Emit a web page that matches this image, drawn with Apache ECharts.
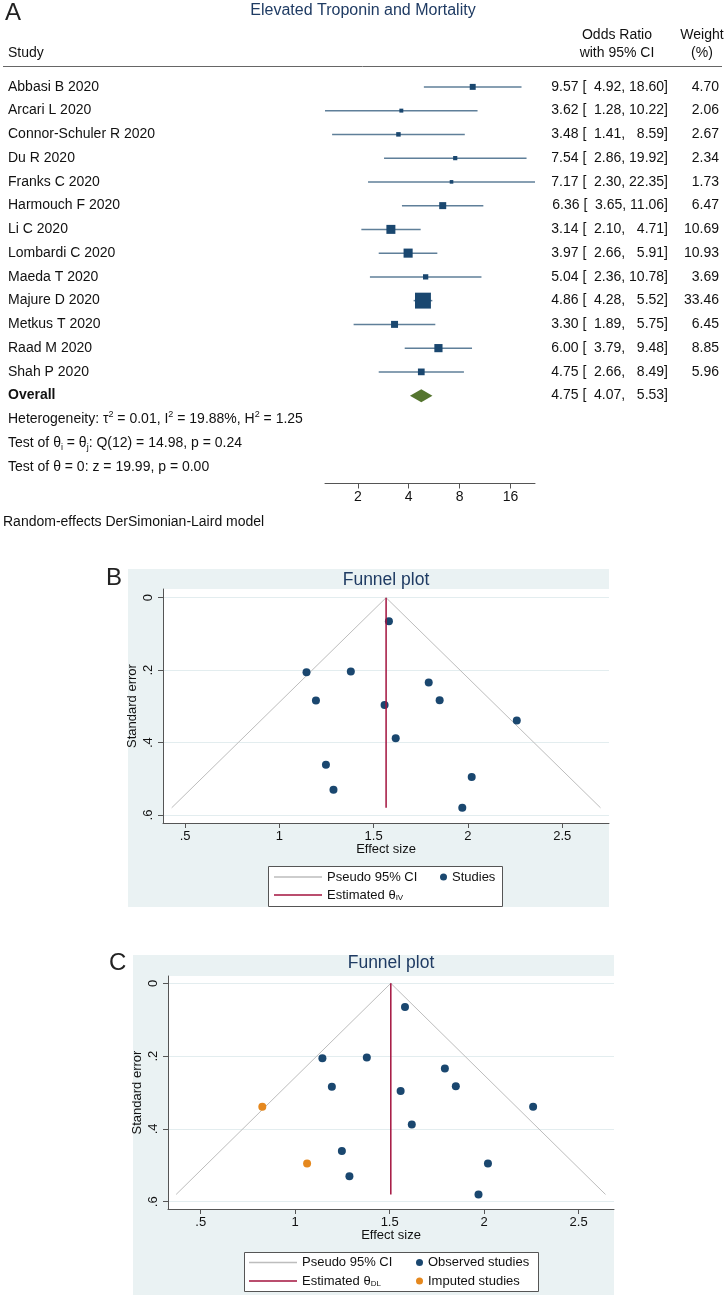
<!DOCTYPE html>
<html>
<head>
<meta charset="utf-8">
<script src="https://cdn.jsdelivr.net/npm/echarts@6/dist/echarts.min.js"></script>
<style>html,body{margin:0;padding:0;background:#fff}#chart{width:725px;height:1295px}</style>
</head>
<body>
<div id="chart"></div>
<script>
// ---------- Panel A data (forest plot) ----------
const studies = ['Abbasi B 2020', 'Arcari L 2020', 'Connor-Schuler R 2020', 'Du R 2020', 'Franks C 2020', 'Harmouch F 2020', 'Li C 2020', 'Lombardi C 2020', 'Maeda T 2020', 'Majure D 2020', 'Metkus T 2020', 'Raad M 2020', 'Shah P 2020'];
const oddsRatio = [9.57, 3.62, 3.48, 7.54, 7.17, 6.36, 3.14, 3.97, 5.04, 4.86, 3.30, 6.00, 4.75];
const ciLower = [4.92, 1.28, 1.41, 2.86, 2.30, 3.65, 2.10, 2.66, 2.36, 4.28, 1.89, 3.79, 2.66];
const ciUpper = [18.60, 10.22, 8.59, 19.92, 22.35, 11.06, 4.71, 5.91, 10.78, 5.52, 5.75, 9.48, 8.49];
const weights = [4.70, 2.06, 2.67, 2.34, 1.73, 6.47, 10.69, 10.93, 3.69, 33.46, 6.45, 8.85, 5.96];
const overallLabel = 'Overall';
const overallOR = [4.75, 4.07, 5.53]; // estimate, lower, upper
const statLines = [
  'Heterogeneity: τ{sup|2} = 0.01, I{sup|2} = 19.88%, H{sup|2} = 1.25',
  'Test of θ{sub|i} = θ{sub|j}: Q(12) = 14.98, p = 0.24',
  'Test of θ = 0: z = 19.99, p = 0.00'
];
const forestTicks = [2, 4, 8, 16];

// ---------- Panel B / C data (funnel plots) ----------
const effectSize = [2.259, 1.287, 1.247, 2.020, 1.970, 1.850, 1.144, 1.379, 1.617, 1.581, 1.194, 1.792, 1.558];
const standardError = [0.339, 0.530, 0.461, 0.495, 0.580, 0.283, 0.206, 0.204, 0.388, 0.065, 0.284, 0.234, 0.296];
const imputedEffect = [0.826, 1.063];
const imputedSE = [0.339, 0.495];
const thetaIV = 1.566;
const thetaDL = 1.506;
const pseudoBx = [0.429, 1.566, 2.703];
const pseudoCx = [0.370, 1.506, 2.642];
const pseudoY = [0.580, 0, 0.580];
const thetaLineSE = [0, 0.580];
const funnelXTicks = [0.5, 1, 1.5, 2, 2.5];
const funnelYTicks = [0, 0.2, 0.4, 0.6];

// ---------- styles ----------
const FF = "'Liberation Sans', Arial, Helvetica, sans-serif";
const NAVY = '#1a476f';
const CI_COL = '#5f7f99';
const GREEN = '#55752f';
const BG = '#eaf2f3';
const PSEUDO = '#bdbdbd';
const CRIMSON = '#a3123e';
const ORANGE = '#e5881e';
const TXT = '#111';

function pad(v) {
  const s = v.toFixed(2);
  return '  '.repeat(Math.max(0, 5 - s.length)) + s;
}
function ciText(e, l, u) { return e.toFixed(2) + ' [' + pad(l) + ', ' + pad(u) + ']'; }
function tickFmt(v) { return (v > 0 && v < 1) ? String(v).replace(/^0/, '') : String(v); }

const chart = echarts.init(document.getElementById('chart'), null, {renderer: 'canvas'});

const forestRows = studies.map((s, i) => [oddsRatio[i], i, ciLower[i], ciUpper[i], weights[i]]);

function funnelX(gi, min, max) {
  return {
    type: 'value', gridIndex: gi, min: min, max: max,
    name: 'Effect size', nameLocation: 'middle', nameGap: 20, nameMoveOverlap: false,
    nameTextStyle: {fontSize: 13, color: TXT, fontFamily: FF},
    axisLine: {show: true, onZero: false, lineStyle: {color: '#555', width: 1}},
    axisTick: {show: true, length: 5, customValues: funnelXTicks, lineStyle: {color: '#555'}},
    axisLabel: {customValues: funnelXTicks, formatter: tickFmt, fontSize: 13, color: TXT, fontFamily: FF, margin: 7},
    splitLine: {show: false}
  };
}
function funnelY(gi, min, max) {
  return {
    type: 'value', gridIndex: gi, min: min, max: max, inverse: true,
    name: 'Standard error', nameLocation: 'middle', nameGap: 24, nameMoveOverlap: false,
    nameTextStyle: {fontSize: 13, color: TXT, fontFamily: FF},
    axisLine: {show: true, onZero: false, lineStyle: {color: '#555', width: 1}},
    axisTick: {show: true, length: 5, customValues: funnelYTicks, lineStyle: {color: '#555'}},
    axisLabel: {customValues: funnelYTicks, formatter: tickFmt, rotate: 90, fontSize: 13, color: TXT, fontFamily: FF, margin: 8},
    splitLine: {show: true, lineStyle: {color: '#e3edef', width: 1}}
  };
}
const legendText = {fontSize: 13, color: TXT, fontFamily: FF, rich: {sub: {fontSize: 8, verticalAlign: 'bottom', fontFamily: FF, color: TXT, padding: [6, 0, 0, 0]}}};
const legendFmt = n => n.replace(/θ(IV|DL)/, 'θ{sub|$1}');
const LINE_ICON = 'path://M0,0H48V1.5H0Z';
function lg(name, left, top, isDot) {
  return {
    data: [isDot ? {name: name, icon: 'circle'} : {name: name, icon: LINE_ICON}],
    left: left, top: top, padding: 0, selectedMode: false,
    itemWidth: isDot ? 7 : 48, itemHeight: isDot ? 7 : 14,
    textStyle: legendText, formatter: legendFmt
  };
}

const option = {
  animation: false,
  backgroundColor: '#fff',
  textStyle: {fontFamily: FF},
  grid: [
    {left: 325, top: 75, width: 210, height: 408.5, show: false},
    {left: 163, top: 589, width: 446, height: 234, show: true, backgroundColor: '#fff', borderWidth: 0},
    {left: 168, top: 976, width: 446, height: 233, show: true, backgroundColor: '#fff', borderWidth: 0}
  ],
  xAxis: [
    {
      type: 'log', logBase: 2, gridIndex: 0, min: 1.28, max: 22.35,
      axisLine: {show: true, onZero: false, lineStyle: {color: '#555', width: 1}},
      axisTick: {show: true, length: 5, customValues: forestTicks, lineStyle: {color: '#555'}},
      axisLabel: {customValues: forestTicks, fontSize: 14, color: TXT, fontFamily: FF, margin: 7},
      splitLine: {show: false}
    },
    funnelX(1, 0.383, 2.748),
    funnelX(2, 0.327, 2.687)
  ],
  yAxis: [
    {type: 'value', gridIndex: 0, min: -0.5, max: 16.7, inverse: true, show: false},
    funnelY(1, -0.024, 0.622),
    funnelY(2, -0.020, 0.620)
  ],
  legend: [
    lg('Pseudo 95% CI', 274, 870.5, false),
    lg('Studies', 440, 870.5, true),
    lg('Estimated θIV', 274, 888.5, false),
    lg('Pseudo 95% CI', 249, 1256, false),
    lg('Observed studies', 416, 1256, true),
    lg('Estimated θDL', 249, 1274.5, false),
    lg('Imputed studies', 416, 1274.5, true)
  ],
  graphic: [
    // panel letters
    {type: 'text', x: 5, y: 1, z: 10, style: {text: 'A', font: '24px ' + FF, fill: '#222'}},
    {type: 'text', x: 106, y: 566, z: 10, style: {text: 'B', font: '24px ' + FF, fill: '#222'}},
    {type: 'text', x: 109, y: 951, z: 10, style: {text: 'C', font: '24px ' + FF, fill: '#222'}},
    // forest header
    {type: 'text', x: 363, y: 11, style: {text: 'Elevated Troponin and Mortality', font: '16px ' + FF, fill: '#1f3b63', align: 'center', verticalAlign: 'middle'}},
    {type: 'text', x: 8, y: 53, style: {text: 'Study', font: '14px ' + FF, fill: TXT, verticalAlign: 'middle'}},
    {type: 'text', x: 617, y: 35, style: {text: 'Odds Ratio', font: '14px ' + FF, fill: TXT, align: 'center', verticalAlign: 'middle'}},
    {type: 'text', x: 617, y: 53, style: {text: 'with 95% CI', font: '14px ' + FF, fill: TXT, align: 'center', verticalAlign: 'middle'}},
    {type: 'text', x: 702, y: 35, style: {text: 'Weight', font: '14px ' + FF, fill: TXT, align: 'center', verticalAlign: 'middle'}},
    {type: 'text', x: 702, y: 53, style: {text: '(%)', font: '14px ' + FF, fill: TXT, align: 'center', verticalAlign: 'middle'}},
    {type: 'line', shape: {x1: 3, y1: 66.5, x2: 722, y2: 66.5}, style: {stroke: '#666', lineWidth: 1}},
    {type: 'text', x: 3, y: 522, style: {text: 'Random-effects DerSimonian-Laird model', font: '14px ' + FF, fill: TXT, verticalAlign: 'middle'}},
    // funnel graph regions
    {type: 'rect', z: -10, shape: {x: 128, y: 569, width: 481, height: 338}, style: {fill: BG}},
    {type: 'rect', z: -10, shape: {x: 133, y: 955, width: 481, height: 340}, style: {fill: BG}},
    {type: 'text', x: 386, y: 580, style: {text: 'Funnel plot', font: '17.5px ' + FF, fill: '#1f3b63', align: 'center', verticalAlign: 'middle'}},
    {type: 'text', x: 391, y: 963, style: {text: 'Funnel plot', font: '17.5px ' + FF, fill: '#1f3b63', align: 'center', verticalAlign: 'middle'}},
    // legend boxes
    {type: 'rect', z: -5, shape: {x: 268.5, y: 866.5, width: 234, height: 40}, style: {fill: '#fff', stroke: '#555', lineWidth: 1}},
    {type: 'rect', z: -5, shape: {x: 244.5, y: 1252.5, width: 294, height: 39}, style: {fill: '#fff', stroke: '#555', lineWidth: 1}}
  ],
  series: [
    // forest: CI lines and weighted squares
    {
      type: 'custom', name: 'Study estimates', xAxisIndex: 0, yAxisIndex: 0,
      data: forestRows, encode: {x: 0, y: 1},
      renderItem: function (params, api) {
        const i = api.value(1);
        const c = api.coord([api.value(0), i]);
        const lo = api.coord([api.value(2), i]);
        const hi = api.coord([api.value(3), i]);
        const s = 2.75 * Math.sqrt(api.value(4));
        return {type: 'group', children: [
          {type: 'line', shape: {x1: lo[0], y1: lo[1], x2: hi[0], y2: hi[1]}, style: {stroke: CI_COL, lineWidth: 1.5}},
          {type: 'rect', shape: {x: c[0] - s / 2, y: c[1] - s / 2, width: s, height: s}, style: {fill: NAVY}}
        ]};
      }
    },
    // forest: overall diamond
    {
      type: 'custom', name: 'Overall', xAxisIndex: 0, yAxisIndex: 0,
      data: [[overallOR[0], studies.length, overallOR[1], overallOR[2]]], encode: {x: 0, y: 1},
      renderItem: function (params, api) {
        const r = api.value(1);
        const c = api.coord([api.value(0), r]);
        const lo = api.coord([api.value(2), r]);
        const hi = api.coord([api.value(3), r]);
        return {type: 'polygon', shape: {points: [[lo[0], c[1]], [c[0], c[1] - 6.5], [hi[0], c[1]], [c[0], c[1] + 6.5]]}, style: {fill: GREEN}};
      }
    },
    // forest: row texts
    {
      type: 'custom', name: 'Row text', xAxisIndex: 0, yAxisIndex: 0, silent: true,
      data: forestRows.map(r => [r[0], r[1]]).concat([[overallOR[0], studies.length]]),
      encode: {x: 0, y: 1},
      renderItem: function (params, api) {
        const i = params.dataIndex;
        const y = api.coord([api.value(0), api.value(1)])[1];
        const f = '14px ' + FF;
        if (i < studies.length) {
          return {type: 'group', children: [
            {type: 'text', x: 8, y: y, style: {text: studies[i], font: f, fill: TXT, verticalAlign: 'middle'}},
            {type: 'text', x: 668, y: y, style: {text: ciText(oddsRatio[i], ciLower[i], ciUpper[i]), font: f, fill: TXT, align: 'right', verticalAlign: 'middle'}},
            {type: 'text', x: 719, y: y, style: {text: weights[i].toFixed(2), font: f, fill: TXT, align: 'right', verticalAlign: 'middle'}}
          ]};
        }
        return {type: 'group', children: [
          {type: 'text', x: 8, y: y, style: {text: overallLabel, font: 'bold 14px ' + FF, fill: TXT, verticalAlign: 'middle'}},
          {type: 'text', x: 668, y: y, style: {text: ciText(overallOR[0], overallOR[1], overallOR[2]), font: f, fill: TXT, align: 'right', verticalAlign: 'middle'}}
        ]};
      }
    },
    // forest: heterogeneity statistics
    {
      type: 'custom', name: 'Statistics', xAxisIndex: 0, yAxisIndex: 0, silent: true,
      data: statLines.map((t, k) => [overallOR[0], studies.length + 1 + k]), encode: {x: 0, y: 1},
      renderItem: function (params, api) {
        const y = api.coord([api.value(0), api.value(1)])[1];
        return {type: 'text', x: 8, y: y, style: {
          text: statLines[params.dataIndex], font: '14px ' + FF, fill: TXT, verticalAlign: 'middle', lineHeight: 18,
          rich: {
            sup: {fontSize: 9, fontFamily: FF, verticalAlign: 'top', lineHeight: 11, fill: TXT},
            sub: {fontSize: 9, fontFamily: FF, verticalAlign: 'bottom', lineHeight: 11, fill: TXT}
          }
        }};
      }
    },
    // Panel B
    {type: 'line', name: 'Pseudo 95% CI', xAxisIndex: 1, yAxisIndex: 1, symbol: 'none', z: 2,
      data: pseudoBx.map((x, k) => [x, pseudoY[k]]), lineStyle: {color: PSEUDO, width: 1}, itemStyle: {color: PSEUDO}},
    {type: 'scatter', name: 'Studies', xAxisIndex: 1, yAxisIndex: 1, symbolSize: 8, z: 3,
      data: effectSize.map((x, k) => [x, standardError[k]]), itemStyle: {color: NAVY, opacity: 1}},
    {type: 'line', name: 'Estimated θIV', xAxisIndex: 1, yAxisIndex: 1, symbol: 'none', z: 4,
      data: thetaLineSE.map(s => [thetaIV, s]), lineStyle: {color: CRIMSON, width: 1.5}, itemStyle: {color: CRIMSON}},
    // Panel C
    {type: 'line', name: 'Pseudo 95% CI', xAxisIndex: 2, yAxisIndex: 2, symbol: 'none', z: 2,
      data: pseudoCx.map((x, k) => [x, pseudoY[k]]), lineStyle: {color: PSEUDO, width: 1}, itemStyle: {color: PSEUDO}},
    {type: 'scatter', name: 'Observed studies', xAxisIndex: 2, yAxisIndex: 2, symbolSize: 8, z: 3,
      data: effectSize.map((x, k) => [x, standardError[k]]), itemStyle: {color: NAVY, opacity: 1}},
    {type: 'scatter', name: 'Imputed studies', xAxisIndex: 2, yAxisIndex: 2, symbolSize: 8, z: 3,
      data: imputedEffect.map((x, k) => [x, imputedSE[k]]), itemStyle: {color: ORANGE, opacity: 1}},
    {type: 'line', name: 'Estimated θDL', xAxisIndex: 2, yAxisIndex: 2, symbol: 'none', z: 4,
      data: thetaLineSE.map(s => [thetaDL, s]), lineStyle: {color: CRIMSON, width: 1.5}, itemStyle: {color: CRIMSON}}
  ]
};
chart.setOption(option);
</script>
</body>
</html>
